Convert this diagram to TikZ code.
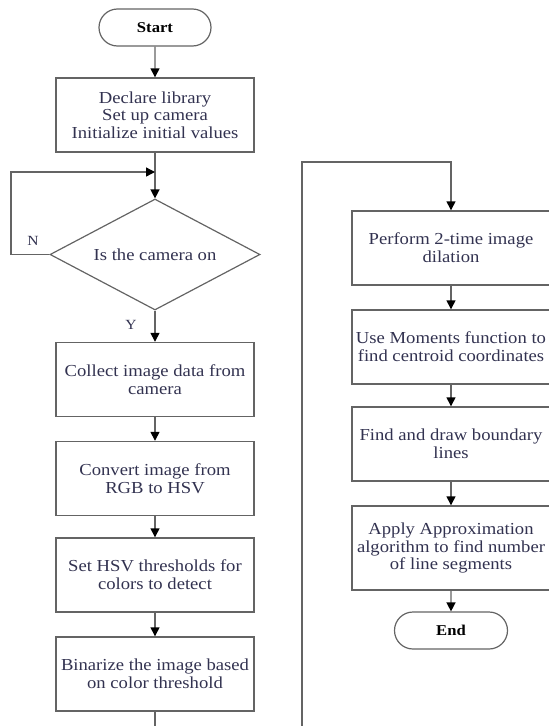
\documentclass[tikz,border=0pt]{standalone}
\usepackage{fontspec}
\setmainfont[FakeStretch=1.11]{Liberation Serif}
\usetikzlibrary{arrows.meta,shapes.geometric,shapes.misc}
\definecolor{txt}{RGB}{50,50,80}
\definecolor{ln}{RGB}{100,100,100}
\begin{document}
\begin{tikzpicture}[x=1pt,y=-1pt,
  box/.style={draw=ln, line width=1.4pt, rectangle, minimum width=198pt, minimum height=74pt, align=center, text=txt, font=\fontsize{16.8}{17.7}\selectfont, inner sep=2pt},
  term/.style={draw=ln, line width=1.2pt, rounded rectangle, minimum width=116pt, minimum height=37pt, text=black, font=\fontsize{15}{16}\selectfont\bfseries, inner sep=2pt},
  dec/.style={draw=ln, line width=1.2pt, diamond, shape aspect=1.9, minimum width=210pt, minimum height=111pt, inner sep=0pt, text=txt, font=\fontsize{16.8}{17.7}\selectfont},
  lbl/.style={text=txt, font=\fontsize{14}{15}\selectfont, inner sep=0pt},
  conn/.style={draw=ln, line width=1.4pt},
  arrow/.style={conn, -{Triangle[length=9pt,width=9pt,color=black]}}]
\useasboundingbox (0,0) rectangle (549,726);
\node[term] (start) at (155,27.5) {Start};
\node[box] (init) at (155,115) {Declare library\\Set up camera\\Initialize initial values};
\node[dec] (cam) at (155,254.5) {Is the camera on};
\node[box] (collect) at (155,379.5) {Collect image data from\\camera};
\node[box] (convert) at (155,478.5) {Convert image from\\RGB to HSV};
\node[box] (thresh) at (155,575) {Set HSV thresholds for\\colors to detect};
\node[box] (binar) at (155,674) {Binarize the image based\\on color threshold};
\node[box] (dilate) at (451,248) {Perform 2-time image\\dilation};
\node[box] (moments) at (451,347) {Use Moments function to\\find centroid coordinates};
\node[box] (bound) at (451,444) {Find and draw boundary\\lines};
\node[box, minimum height=84pt] (approx) at (451,548) {Apply Approximation\\algorithm to find number\\of line segments};
\node[term, minimum width=117pt] (end) at (451,630.5) {End};
\node[lbl] (nlab) at (33,241) {N};
\node[lbl] (ylab) at (131,325) {Y};
\coordinate (loopJ) at (155,172);
\coordinate (loopL) at (11,172);
\coordinate (botL) at (155,732);
\coordinate (botR) at (302,732);
\coordinate (topR) at (302,162);
\draw[arrow] (start) -- (init);
\draw[arrow] (init) -- (cam);
\draw[arrow] (cam.west) -| (loopL) -- (loopJ);
\draw[arrow] (cam.south) -- (collect);
\draw[arrow] (collect) -- (convert);
\draw[arrow] (convert) -- (thresh);
\draw[arrow] (thresh) -- (binar);
\draw[conn] (binar) -- (botL);
\draw[arrow] (botR) -- (topR) -| (dilate.north);
\draw[arrow] (dilate) -- (moments);
\draw[arrow] (moments) -- (bound);
\draw[arrow] (bound) -- (approx);
\draw[arrow] (approx) -- (end);
\end{tikzpicture}
\end{document}
